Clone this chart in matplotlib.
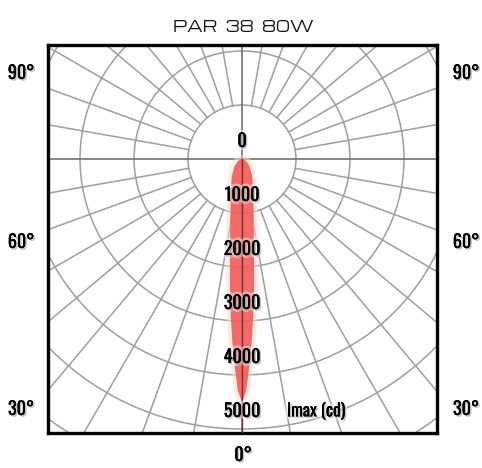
import numpy as np
import matplotlib
matplotlib.use("Agg")
import matplotlib.pyplot as plt
import matplotlib.patheffects as pe
from matplotlib.patches import Circle
from matplotlib import font_manager

# Luminous intensity of the lamp (cd) against angle from the beam axis (deg)
angles = [0, 1, 2, 3, 4, 5, 6, 8, 10, 13, 20, 30, 45, 60, 75, 90]
intensity = [4500, 4300, 3850, 3400, 2950, 2550, 2150, 1600, 1250, 950,
             600, 380, 200, 100, 35, 0]

rings = [1000, 2000, 3000, 4000, 5000, 6000]
ring_labels = ["0", "1000", "2000", "3000", "4000", "5000"]
side_labels = ["90°", "60°", "30°"]
title = "PAR 38 80W"


def have_font(name):
    try:
        font_manager.findfont(font_manager.FontProperties(family=name),
                              fallback_to_default=False)
        return True
    except ValueError:
        return False


label_font = ["Oswald", "Roboto Condensed", "DejaVu Sans"]
if have_font("Michroma"):
    title_font, title_txt, title_size = "Michroma", title.replace(" ", "  "), 10.5
else:
    title_font, title_txt, title_size = "DejaVu Sans", " ".join(title), 10.5

fig = plt.figure(figsize=(4.82, 4.68), dpi=100)
ax = fig.add_axes([48 / 482, 35 / 468, 389 / 482, 388 / 468])
ax.set_xlim(-3593, 3611)
ax.set_ylim(-5074, 2111)
ax.set_xticks([])
ax.set_yticks([])
for s in ax.spines.values():
    s.set_linewidth(2.4)
    s.set_color("black")

grid_col = "#9e9e9e"
# concentric rings
for r in rings:
    ax.add_patch(Circle((0, 0), r, fill=False, ec=grid_col, lw=1.1, zorder=1))

# radial spokes every 10 deg, starting at the first ring
for a in range(0, 360, 10):
    t = np.radians(a)
    r0 = 0 if a % 90 == 0 else rings[0]
    ax.plot([r0 * np.sin(t), 9000 * np.sin(t)], [r0 * np.cos(t), 9000 * np.cos(t)],
            color="#666666" if a % 90 == 0 else grid_col, lw=1.1, zorder=1)

# beam, mirrored about the vertical axis, pointing down
th = np.radians(np.array(angles))
cd = np.array(intensity)
th_all = np.concatenate([-th[::-1], th[1:]])
cd_all = np.concatenate([cd[::-1], cd[1:]])
bx = cd_all * np.sin(th_all)
by = -cd_all * np.cos(th_all)
ax.fill(bx, by, color=(1.0, 0.82, 0.75), alpha=0.5, lw=6, ec=(1.0, 0.86, 0.8), zorder=2)
ax.fill(bx, by, color="#ef5050", alpha=0.82, lw=0, zorder=3)
ax.plot([0, 0], [0, -5074], color="#8a2a2a", lw=1.0, zorder=4)

shadow = [pe.withStroke(linewidth=4, foreground="white", alpha=0.45),
          pe.withSimplePatchShadow(offset=(1.2, -1.2), shadow_rgbFace="#888888", alpha=0.5),
          pe.Normal()]

for i, lab in enumerate(ring_labels):
    ax.text(0, -i * 1000 + 333, lab, ha="center", va="center", fontsize=13,
            fontweight="semibold", family=label_font, color="black", zorder=5,
            path_effects=shadow)
ax.text(1370, -4667, "Imax (cd)", ha="center", va="center", fontsize=12.5,
        family=label_font, fontweight="normal", color="black", zorder=5,
        path_effects=shadow)

# angle labels outside the frame
for lab, y in zip(side_labels, [73, 242, 409]):
    for x in [21, 466]:
        fig.text(x / 482, 1 - y / 468, lab, ha="center", va="center", fontsize=13,
                 fontweight="semibold", family=label_font, path_effects=shadow)
fig.text(243 / 482, 1 - 455 / 468, "0°", ha="center", va="center", fontsize=13,
         fontweight="semibold", family=label_font, path_effects=shadow)

fig.text(243 / 482, 1 - 28 / 468, title_txt, ha="center", va="center",
         fontsize=title_size, family=title_font, color="#111111")

fig.savefig("out.png", dpi=100)
